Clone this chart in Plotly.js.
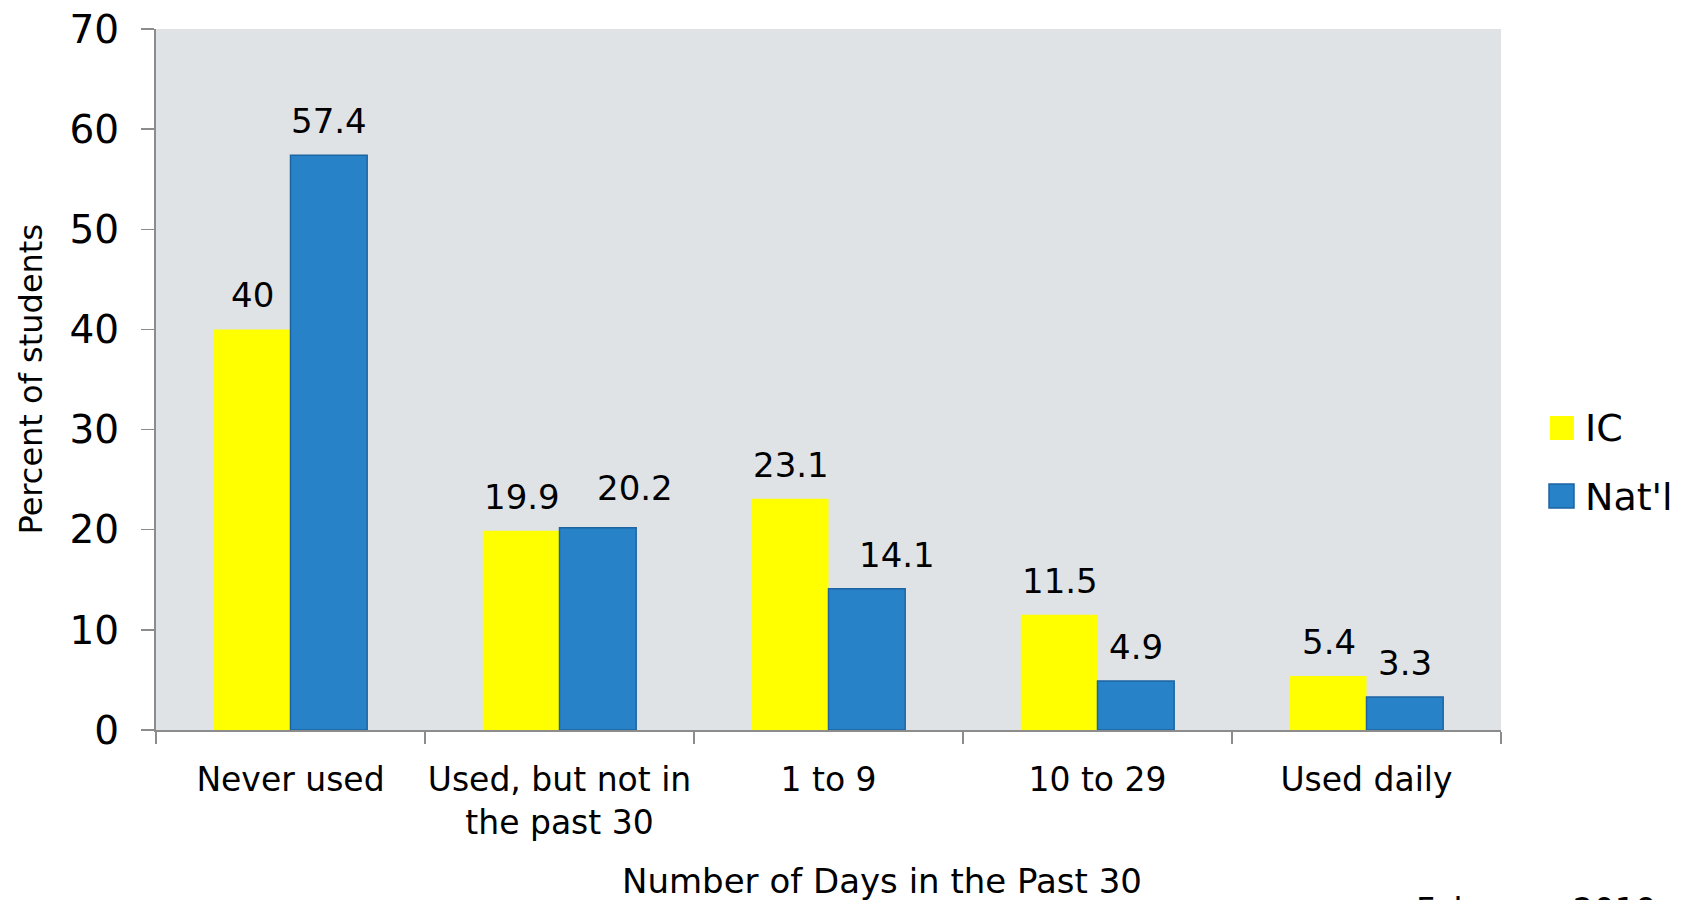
<!DOCTYPE html>
<html><head><meta charset="utf-8">
<script src="https://cdn.plot.ly/plotly-3.0.1.min.js"></script>
<style>html,body{margin:0;padding:0;background:#fff;}#chart{width:1690px;height:900px;}</style>
</head><body><div id="chart"></div>
<script>
const categories = ["Never used", "Used, but not in<br>the past 30", "1 to 9", "10 to 29", "Used daily"];
const seriesNames = ["IC", "Nat'l"];
const icValues = [40, 19.9, 23.1, 11.5, 5.4];
const natValues = [57.4, 20.2, 14.1, 4.9, 3.3];
const icLabels = ["40", "19.9", "23.1", "11.5", "5.4"];
const natLabels = ["57.4", "20.2", "14.1", "4.9", "3.3"];
const yTicks = [0, 10, 20, 30, 40, 50, 60, 70];

const FONT = "'DejaVu Sans', sans-serif";
const YELLOW = "#FFFF00", BLUE = "#2782C7", BLUE_EDGE = "#1D64A3";

const traces = [
  {type: "bar", name: seriesNames[0], x: categories, y: icValues, showlegend: false,
   marker: {color: YELLOW, line: {width: 0}}},
  {type: "bar", name: seriesNames[1], x: categories, y: natValues, showlegend: false,
   marker: {color: BLUE, line: {width: 1.5, color: BLUE_EDGE}}}
];

// label placement style: bar half-offset and a few manual nudges seen in the original
const BAR_OFFSET = 38;
const natNudge = {1: {dx: 37, dy: 6}, 2: {dx: 30, dy: 0}};
const labelFont = {family: FONT, size: 34, color: "#000"};
const annotations = [];
categories.forEach((c, i) => {
  annotations.push({x: c, y: icValues[i], xref: "x", yref: "y", text: icLabels[i],
    showarrow: false, xshift: -BAR_OFFSET, yshift: 34, yanchor: "middle", xanchor: "center",
    font: labelFont});
  const n = natNudge[i] || {dx: 0, dy: 0};
  annotations.push({x: c, y: natValues[i], xref: "x", yref: "y", text: natLabels[i],
    showarrow: false, xshift: BAR_OFFSET + n.dx, yshift: 34 + n.dy, yanchor: "middle", xanchor: "center",
    font: labelFont});
});

// legend drawn as swatches + labels (paper coordinates)
const PX = v => (v - 156) / 1345;           // pixel -> paper x
const PY = v => (730 - v) / 701;            // pixel -> paper y
const shapes = [
  {type: "rect", xref: "paper", yref: "paper", x0: PX(1550), x1: PX(1574), y0: PY(440), y1: PY(416),
   fillcolor: YELLOW, line: {width: 0}},
  {type: "rect", xref: "paper", yref: "paper", x0: PX(1549), x1: PX(1574), y0: PY(508), y1: PY(484),
   fillcolor: BLUE, line: {width: 1.5, color: BLUE_EDGE}}
];
annotations.push(
  {text: seriesNames[0], xref: "paper", yref: "paper", x: PX(1583), y: PY(428), xanchor: "left",
   yanchor: "middle", showarrow: false, font: {family: FONT, size: 38, color: "#000"}},
  {text: seriesNames[1], xref: "paper", yref: "paper", x: PX(1583), y: PY(497), xanchor: "left",
   yanchor: "middle", showarrow: false, font: {family: FONT, size: 38, color: "#000"}},
  {text: "Number of Days in the Past 30", xref: "paper", yref: "paper",
   x: PX(882), y: PY(881), xanchor: "center", yanchor: "middle",
   showarrow: false, font: {family: FONT, size: 34, color: "#000"}},
  {text: "Percent of students", xref: "paper", yref: "paper", textangle: -90,
   x: PX(30), y: 0.5, xanchor: "center", yanchor: "middle",
   showarrow: false, font: {family: FONT, size: 32, color: "#000"}},
  {text: "February 2019", xref: "paper", yref: "paper",
   x: PX(1414), y: PY(889), xanchor: "left", yanchor: "top",
   showarrow: false, font: {family: FONT, size: 33, color: "#000"}}
);

const layout = {
  width: 1690, height: 900,
  margin: {l: 156, r: 189, t: 29, b: 170},
  paper_bgcolor: "#fff", plot_bgcolor: "#DFE3E6",
  font: {family: FONT, color: "#000"},
  barmode: "group", bargap: 0.43, bargroupgap: 0,
  showlegend: false,
  xaxis: {type: "category", tickson: "boundaries", ticks: "outside", ticklen: 12,
    tickcolor: "#8C8C8C", tickwidth: 1.5, showline: true, linecolor: "#8C8C8C", linewidth: 2,
    showgrid: false, tickangle: 0, ticklabelstandoff: 19,
    tickfont: {family: FONT, size: 33, color: "#000"}},
  yaxis: {range: [0, 70], tickvals: yTicks, ticks: "outside", ticklen: 13,
    tickcolor: "#8C8C8C", tickwidth: 1.5, showline: true, linecolor: "#8C8C8C", linewidth: 2,
    showgrid: false, zeroline: false, ticklabelstandoff: 14,
    tickfont: {family: FONT, size: 39, color: "#000"}},
  shapes: shapes,
  annotations: annotations
};

Plotly.newPlot("chart", traces, layout, {displayModeBar: false, staticPlot: true});
</script></body></html>
